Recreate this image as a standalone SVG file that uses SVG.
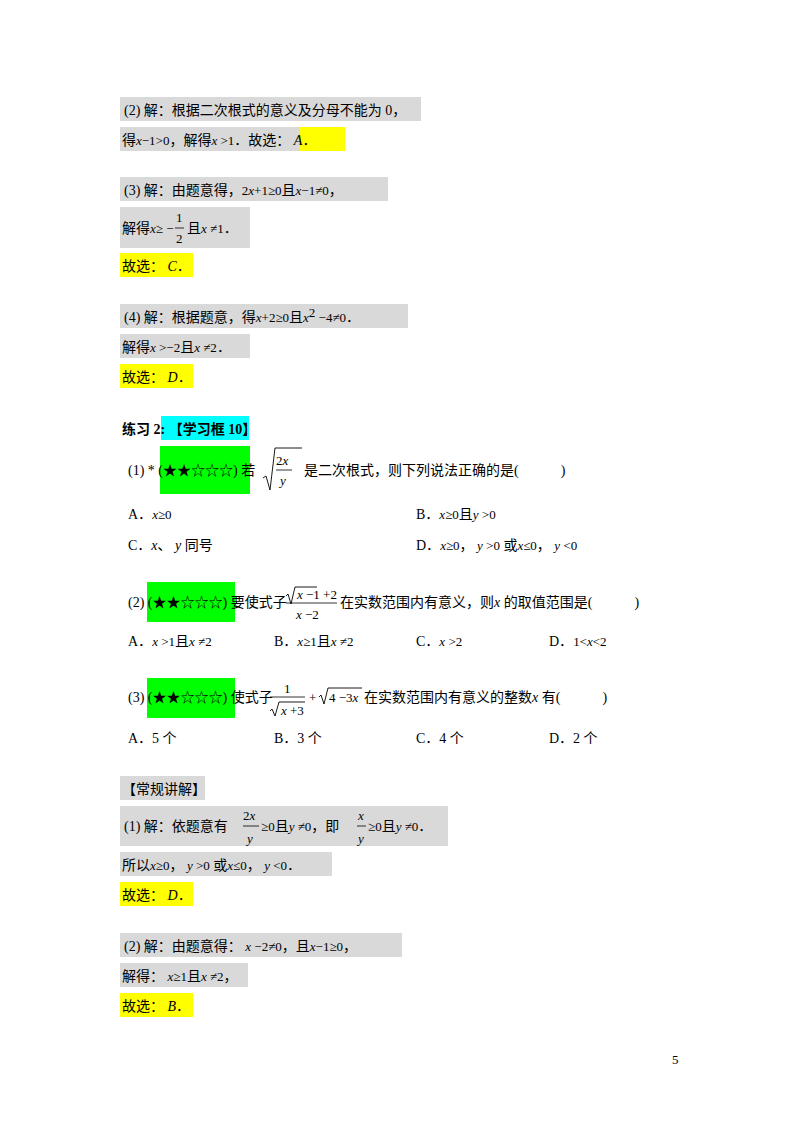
<svg xmlns="http://www.w3.org/2000/svg" width="800" height="1132" viewBox="0 0 800 1132">
<style>
.g{fill:#d9d9d9}.y{fill:#ffff00}.gr{fill:#00ff00}.c{fill:#00ffff}
text{font-family:"Liberation Serif","Noto Sans CJK SC",serif;font-size:14px;fill:#000}
.i{font-style:italic}.b{font-weight:bold}.s{font-size:13px}
line{stroke:#000;stroke-width:0.8}
path{fill:none;stroke:#000;stroke-width:0.9}
</style>
<rect width="800" height="1132" fill="#fff"/>
<rect class="g" x="120" y="97" width="301" height="24"/>
<text x="124" y="115">(2) 解：根据二次根式的意义及分母不能为 0，</text>
<rect class="g" x="120" y="127" width="180" height="24"/><rect class="y" x="300" y="127" width="45" height="24"/>
<text x="122" y="145">得<tspan class="i s">x</tspan><tspan class="s">−1&gt;0</tspan>，解得<tspan class="i s">x</tspan><tspan class="s"> &gt;1</tspan>．故选： <tspan class="i">A</tspan>．</text>
<rect class="g" x="120" y="177" width="268" height="24"/>
<text x="124" y="195">(3) 解：由题意得，<tspan class="s">2<tspan class="i">x</tspan>+1≥0</tspan>且<tspan class="i s">x</tspan><tspan class="s">−1≠0</tspan>，</text>
<rect class="g" x="120" y="207" width="130" height="41"/>
<text x="122" y="233">解得<tspan class="i s">x</tspan><tspan class="s">≥ −</tspan></text>
<text x="176" y="222" class="s">1</text><line x1="175" y1="228" x2="184" y2="228"/><text x="176" y="243" class="s">2</text>
<text x="187" y="233">且<tspan class="i s">x</tspan><tspan class="s"> ≠1</tspan>．</text>
<rect class="y" x="120" y="253" width="73" height="24"/>
<text x="122" y="271">故选： <tspan class="i">C</tspan>．</text>
<rect class="g" x="120" y="304" width="288" height="24"/>
<text x="124" y="322">(4) 解：根据题意，得<tspan class="i s">x</tspan><tspan class="s">+2≥0</tspan>且<tspan class="i s">x</tspan><tspan class="s" dy="-5">2</tspan><tspan class="s" dy="5"> −4≠0</tspan>．</text>
<rect class="g" x="120" y="334" width="130" height="24"/>
<text x="122" y="352">解得<tspan class="i s">x</tspan><tspan class="s"> &gt;−2</tspan>且<tspan class="i s">x</tspan><tspan class="s"> ≠2</tspan>．</text>
<rect class="y" x="120" y="364" width="73" height="24"/>
<text x="122" y="382">故选： <tspan class="i">D</tspan>．</text>

<rect class="c" x="161" y="416" width="88" height="24"/>
<text x="122" y="434" class="b">练习 2: 【学习框 10】</text>
<rect class="gr" x="160" y="446" width="90" height="48"/>
<text x="128" y="475">(1) * (★★☆☆☆) 若</text>
<path d="M263,478 L266,476 L270,490 L275,448 L302,448"/>
<text x="276" y="465" class="s">2<tspan class="i">x</tspan></text><line x1="276" y1="470" x2="292" y2="470"/><text x="280" y="485" class="i s">y</text>
<text x="304" y="475">是二次根式，则下列说法正确的是(　　　)</text>
<text x="128" y="519">A．<tspan class="i s">x</tspan><tspan class="s">≥0</tspan></text>
<text x="416" y="519">B．<tspan class="i s">x</tspan><tspan class="s">≥0</tspan>且<tspan class="i s">y</tspan><tspan class="s"> &gt;0</tspan></text>
<text x="128" y="550">C．<tspan class="i">x</tspan>、 <tspan class="i">y</tspan> 同号</text>
<text x="416" y="550">D．<tspan class="i s">x</tspan><tspan class="s">≥0</tspan>， <tspan class="i s">y</tspan><tspan class="s"> &gt;0</tspan> 或<tspan class="i s">x</tspan><tspan class="s">≤0</tspan>， <tspan class="i s">y</tspan><tspan class="s"> &lt;0</tspan></text>

<rect class="gr" x="147" y="582" width="88" height="40"/>
<text x="128" y="607">(2) (★★☆☆☆) 要使式子</text>
<path d="M286,596 L288,594 L291,604 L295,587 L317,587"/>
<text x="297" y="599" class="i s">x<tspan font-style="normal"> −1 +2</tspan></text>
<line x1="286" y1="603" x2="337" y2="603"/>
<text x="296" y="619" class="i s">x<tspan font-style="normal"> −2</tspan></text>
<text x="340" y="607">在实数范围内有意义，则<tspan class="i">x</tspan> 的取值范围是(　　　)</text>
<text x="128" y="646">A．<tspan class="i s">x</tspan><tspan class="s"> &gt;1</tspan>且<tspan class="i s">x</tspan><tspan class="s"> ≠2</tspan></text>
<text x="274" y="646">B．<tspan class="i s">x</tspan><tspan class="s">≥1</tspan>且<tspan class="i s">x</tspan><tspan class="s"> ≠2</tspan></text>
<text x="416" y="646">C．<tspan class="i s">x</tspan><tspan class="s"> &gt;2</tspan></text>
<text x="549" y="646">D．<tspan class="s">1&lt;<tspan class="i">x</tspan>&lt;2</tspan></text>

<rect class="gr" x="147" y="678" width="88" height="40"/>
<text x="128" y="702">(3) (★★☆☆☆) 使式子</text>
<text x="284" y="693" class="s">1</text>
<line x1="270" y1="697" x2="305" y2="697"/>
<path d="M270,711 L272,709 L275,716 L279,702 L305,702"/>
<text x="281" y="715" class="i s">x<tspan font-style="normal"> +3</tspan></text>
<text x="309" y="702" class="s">+</text>
<path d="M319,697 L321,695 L324,704 L328,688 L362,688"/>
<text x="329" y="702" class="s">4 −3<tspan class="i">x</tspan></text>
<text x="364" y="702">在实数范围内有意义的整数<tspan class="i">x</tspan> 有(　　　)</text>
<text x="128" y="743">A．5 个</text>
<text x="274" y="743">B．3 个</text>
<text x="416" y="743">C．4 个</text>
<text x="549" y="743">D．2 个</text>

<rect class="g" x="120" y="776" width="85" height="24"/>
<text x="122" y="794">【常规讲解】</text>
<rect class="g" x="120" y="806" width="328" height="40"/>
<text x="124" y="831">(1) 解：依题意有</text>
<text x="243" y="820" class="s">2<tspan class="i">x</tspan></text><line x1="243" y1="826" x2="259" y2="826"/><text x="247" y="843" class="i s">y</text>
<text x="261" y="831"><tspan class="s">≥0</tspan>且<tspan class="i s">y</tspan><tspan class="s"> ≠0</tspan>，即</text>
<text x="358" y="820" class="i s">x</text><line x1="357" y1="826" x2="366" y2="826"/><text x="358" y="843" class="i s">y</text>
<text x="368" y="831"><tspan class="s">≥0</tspan>且<tspan class="i s">y</tspan><tspan class="s"> ≠0</tspan>．</text>
<rect class="g" x="120" y="852" width="212" height="24"/>
<text x="122" y="870">所以<tspan class="i s">x</tspan><tspan class="s">≥0</tspan>， <tspan class="i s">y</tspan><tspan class="s"> &gt;0</tspan> 或<tspan class="i s">x</tspan><tspan class="s">≤0</tspan>， <tspan class="i s">y</tspan><tspan class="s"> &lt;0</tspan>．</text>
<rect class="y" x="120" y="882" width="73" height="24"/>
<text x="122" y="900">故选： <tspan class="i">D</tspan>．</text>
<rect class="g" x="120" y="933" width="282" height="24"/>
<text x="124" y="951">(2) 解：由题意得： <tspan class="i s">x</tspan><tspan class="s"> −2≠0</tspan>，且<tspan class="i s">x</tspan><tspan class="s">−1≥0</tspan>，</text>
<rect class="g" x="120" y="963" width="128" height="24"/>
<text x="122" y="981">解得： <tspan class="i s">x</tspan><tspan class="s">≥1</tspan>且<tspan class="i s">x</tspan><tspan class="s"> ≠2</tspan>，</text>
<rect class="y" x="120" y="993" width="73" height="24"/>
<text x="122" y="1011">故选： <tspan class="i">B</tspan>．</text>
<text x="672" y="1064" class="s">5</text>
</svg>
